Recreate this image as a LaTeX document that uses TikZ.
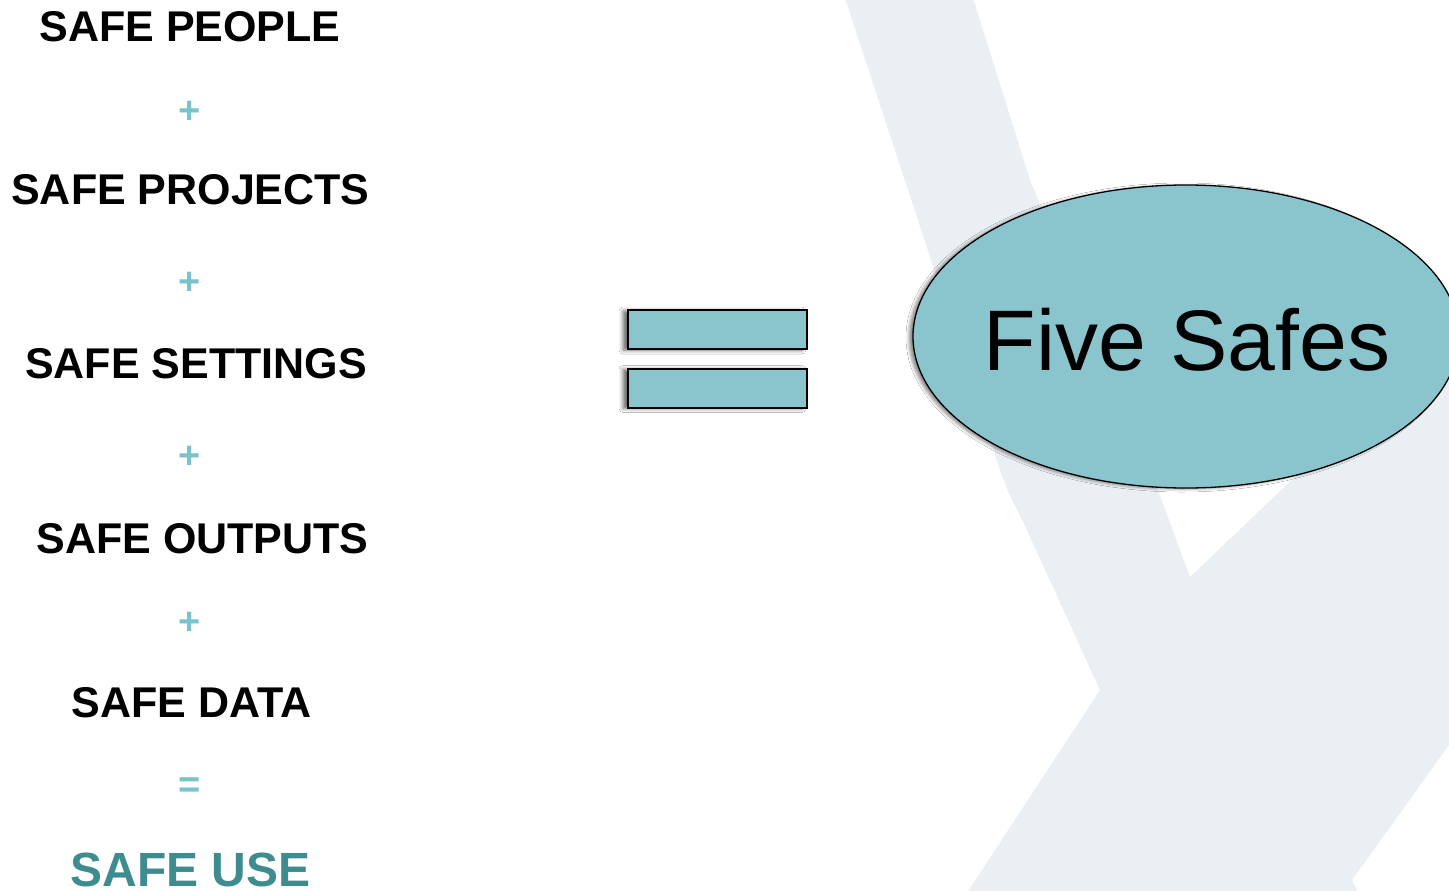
\documentclass[tikz,border=0pt]{standalone}
\usepackage{fontspec}
\setmainfont{Liberation Sans}
\usetikzlibrary{shapes.geometric,shadows.blur}
\definecolor{bgshape}{HTML}{EAEFF3}
\definecolor{tealfill}{HTML}{8AC5CD}
\definecolor{plusc}{HTML}{79C3CA}
\definecolor{usec}{HTML}{3E8C90}
\tikzset{
  safelabel/.style={anchor=base, inner sep=0pt, font=\bfseries\fontsize{43}{50}\selectfont, text=black},
  opsign/.style={anchor=base, inner sep=0pt, font=\bfseries\fontsize{38}{44}\selectfont, text=plusc},
  eqbar/.style={draw=black, line width=2pt, fill=tealfill, rectangle, minimum width=179pt, minimum height=39pt, inner sep=0pt,
    blur shadow={shadow xshift=-5pt, shadow yshift=-1pt, shadow opacity=60, shadow blur radius=4pt}},
  fiveellipse/.style={ellipse, draw=black, line width=1.3pt, fill=tealfill, minimum width=546pt, minimum height=303pt, inner sep=0pt,
    blur shadow={shadow xshift=-4pt, shadow yshift=-1pt, shadow opacity=45, shadow blur radius=3pt}}
}
\begin{document}
\begin{tikzpicture}[x=1pt,y=-1pt]
\useasboundingbox (0,0) rectangle (1449,891);
\clip (0,0) rectangle (1449,891);
\fill[white] (0,0) rectangle (1449,891);
% background mark
\fill[bgshape] (845,-2) -- (1000,470) .. controls (1008,492) .. (1020,515) -- (1100,690) -- (967,893)
  -- (1358,893) -- (1352,880) -- (1449,745) -- (1449,330) -- (1190,577)
  -- (1159,493) -- (1030,180) -- (973,-2) -- cycle;
% left column
\node[safelabel] (people) at (190,42) {SAFE PEOPLE};
\node[opsign] (p1) at (190,123.5) {+};
\node[safelabel] (projects) at (190.5,204) {SAFE PROJECTS};
\node[opsign] (p2) at (190,294.5) {+};
\node[safelabel] (settings) at (196,378) {SAFE SETTINGS};
\node[opsign] (p3) at (190,468.5) {+};
\node[safelabel] (outputs) at (202.5,553) {SAFE OUTPUTS};
\node[opsign] (p4) at (190,634.5) {+};
\node[safelabel] (data) at (191.5,717) {SAFE DATA};
\node[opsign] (eqs) at (190,797) {=};
\node[safelabel, font=\bfseries\fontsize{48}{56}\selectfont, text=usec] (use) at (190.5,886) {SAFE USE};
% big equals sign
\node[eqbar] (bartop) at (717.5,329.5) {};
\node[eqbar] (barbot) at (717.5,388) {};
% ellipse
\node[fiveellipse] (five) at (1186,336.5) {};
\node[anchor=base, inner sep=0pt, font=\fontsize{86}{96}\selectfont] (fivetext) at (1187,370) {Five Safes};
\end{tikzpicture}
\end{document}
